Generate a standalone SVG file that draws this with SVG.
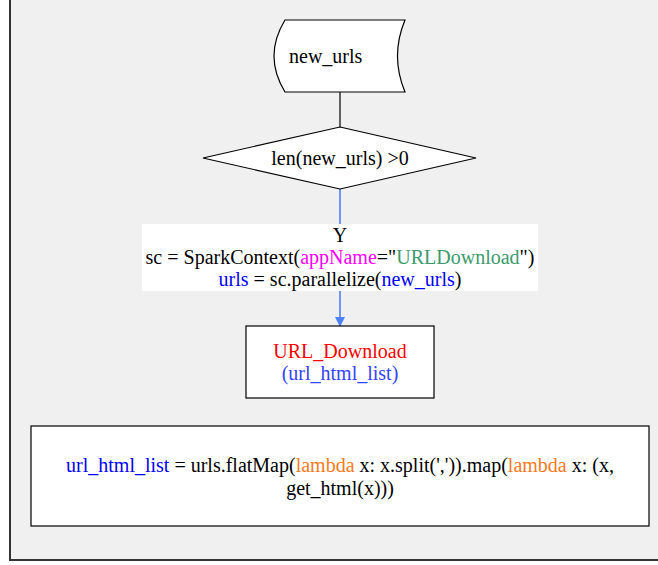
<svg xmlns="http://www.w3.org/2000/svg" width="658" height="565" viewBox="0 0 658 565">
  <style>
    .shape { fill: #ffffff; stroke: #000000; stroke-width: 1.2; }
    .txt { font-family: "Liberation Serif", "Times New Roman", serif; font-size: 20px; fill: #000000; }
    .mid { text-anchor: middle; }
    .txt .blue, .txt.blue { fill: #0000ff; }
    .txt .magenta { fill: #ff00ff; }
    .txt .green { fill: #3c9a6c; }
    .txt .orange { fill: #f77a1e; }
    .txt.red { fill: #ff0000; }
    .txt.softblue { fill: #3344ff; }
    .flow { stroke: #4d7fff; stroke-width: 1.6; fill: none; }
    .plain { stroke: #000000; stroke-width: 1.2; fill: none; }
  </style>
  <defs>
    <marker id="arrowBlue" markerWidth="10" markerHeight="10" refX="9" refY="5" orient="auto" markerUnits="userSpaceOnUse">
      <path d="M0,0 L10,5 L0,10 Z" fill="#4d7fff"/>
    </marker>
  </defs>

  <!-- canvas frame -->
  <rect x="0" y="0" width="658" height="565" fill="#ffffff"/>
  <rect x="10" y="0" width="648" height="560" fill="#f0f0f0"/>
  <line x1="10" y1="0" x2="10" y2="561" stroke="#333333" stroke-width="2"/>
  <line x1="10" y1="560" x2="658" y2="560" stroke="#333333" stroke-width="2"/>

  <!-- connectors -->
  <g id="connectors">
    <line class="plain" x1="340" y1="92" x2="340" y2="127"/>
    <line class="flow" x1="340" y1="189" x2="340" y2="224"/>
    <line class="flow" x1="340" y1="291" x2="340" y2="326" marker-end="url(#arrowBlue)"/>
  </g>

  <!-- stored data: new_urls -->
  <g id="new_urls">
    <path class="shape" d="M285,20 L405,20 Q390,56 405,92 L285,92 Q263,56 285,20 Z"/>
    <text class="txt" x="289" y="63">new_urls</text>
  </g>

  <!-- decision -->
  <g id="check_len">
    <polygon class="shape" points="340,127 476,158 340,189 203,158"/>
    <text class="txt mid" x="340" y="165">len(new_urls) &gt;0</text>
  </g>

  <!-- edge label -->
  <g id="edge_label">
    <rect x="142" y="224" width="396" height="67" fill="#ffffff"/>
    <text class="txt mid" x="340" y="242">Y</text>
    <text class="txt mid" x="340" y="264">sc = SparkContext(<tspan class="magenta">appName</tspan>="<tspan class="green">URLDownload</tspan>")</text>
    <text class="txt mid" x="340" y="286"><tspan class="blue">urls</tspan> = sc.parallelize(<tspan class="blue">new_urls</tspan>)</text>
  </g>

  <!-- process: URL_Download -->
  <g id="url_download">
    <rect class="shape" x="246" y="326" width="188" height="72"/>
    <text class="txt mid red" x="340" y="358">URL_Download</text>
    <text class="txt mid softblue" x="340" y="380">(url_html_list)</text>
  </g>

  <!-- code note -->
  <g id="flatmap_note">
    <rect class="shape" x="31" y="426" width="618" height="100"/>
    <text class="txt mid" x="340" y="472"><tspan class="blue">url_html_list</tspan> = urls.flatMap(<tspan class="orange">lambda</tspan> x: x.split(',')).map(<tspan class="orange">lambda</tspan> x: (x,</text>
    <text class="txt mid" x="340" y="495">get_html(x)))</text>
  </g>
</svg>
